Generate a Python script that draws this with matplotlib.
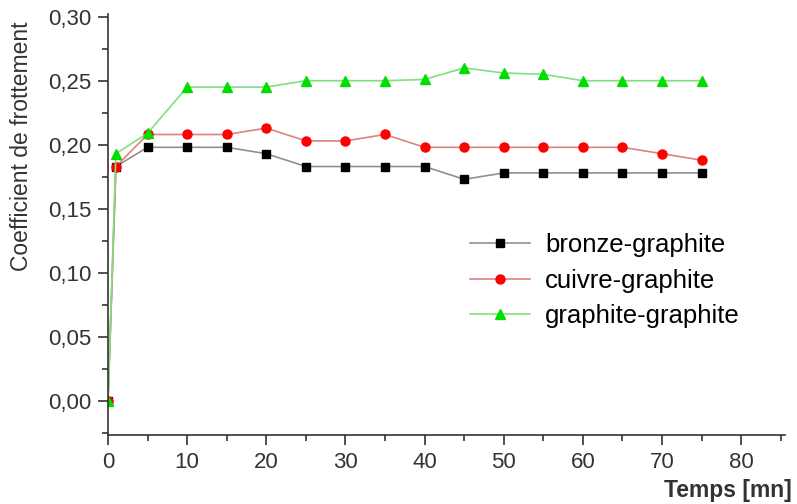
import numpy as np
import matplotlib.pyplot as plt
from matplotlib.ticker import MultipleLocator, FuncFormatter

temps = [0, 1, 5, 10, 15, 20, 25, 30, 35, 40, 45, 50, 55, 60, 65, 70, 75]
bronze = [0.0, 0.183, 0.198, 0.198, 0.198, 0.193, 0.183, 0.183, 0.183, 0.183,
          0.173, 0.178, 0.178, 0.178, 0.178, 0.178, 0.178]
cuivre = [0.0, 0.183, 0.208, 0.208, 0.208, 0.213, 0.203, 0.203, 0.208, 0.198,
          0.198, 0.198, 0.198, 0.198, 0.198, 0.193, 0.188]
graphite = [0.0, 0.193, 0.209, 0.245, 0.245, 0.245, 0.250, 0.250, 0.250, 0.251,
            0.260, 0.256, 0.255, 0.250, 0.250, 0.250, 0.250]


def main():
    plt.rcParams['font.family'] = ['Liberation Sans', 'DejaVu Sans']
    fig = plt.figure(figsize=(7.97, 5.04), dpi=100)
    ax = fig.add_axes([0.1355, 0.137, 0.85, 0.835])

    ax.plot(temps, bronze, '-', color='#909090', lw=1.2, marker='s', ms=6,
            mfc='black', mec='black', label='bronze-graphite')
    ax.plot(temps, cuivre, '-', color='#e08080', lw=1.2, marker='o', ms=6.5,
            mfc='red', mec='red', label='cuivre-graphite')
    ax.plot(temps, graphite, '-', color='#80e080', lw=1.2, marker='^', ms=7,
            mfc='#00dd00', mec='#00dd00', label='graphite-graphite')

    ax.set_xlim(0, 85.6)
    ax.set_ylim(-0.0266, 0.302)
    ax.xaxis.set_major_locator(MultipleLocator(10))
    ax.xaxis.set_minor_locator(MultipleLocator(5))
    ax.yaxis.set_major_locator(MultipleLocator(0.05))
    ax.yaxis.set_minor_locator(MultipleLocator(0.025))
    ax.yaxis.set_major_formatter(FuncFormatter(lambda v, p: f"{v:.2f}".replace('.', ',')))
    ax.tick_params(which='major', direction='out', length=7, width=1.2, labelsize=16,
                   colors='#333333', pad=5)
    ax.tick_params(which='minor', direction='out', length=4, width=1.2, colors='#333333')
    for s in ['top', 'right']:
        ax.spines[s].set_visible(False)
    for s in ['left', 'bottom']:
        ax.spines[s].set_linewidth(1.2)
        ax.spines[s].set_color('#333333')

    ax.set_ylabel("Coefficient de frottement", fontsize=16.5, color='#333333')
    ax.yaxis.set_label_coords(-0.111, 0.686)
    ax.set_xlabel("Temps [mn]", fontsize=16.5, fontweight='bold', color='#333333')
    ax.xaxis.set_label_coords(1.01, -0.105)
    ax.xaxis.label.set_horizontalalignment('right')

    ax.legend(loc='upper left', bbox_to_anchor=(0.535, 0.48), frameon=False,
              fontsize=18.5, handlelength=2.3, handletextpad=0.6, labelspacing=0.45,
              borderpad=0, borderaxespad=0)

    plt.savefig("out.png")


if __name__ == "__main__":
    main()
